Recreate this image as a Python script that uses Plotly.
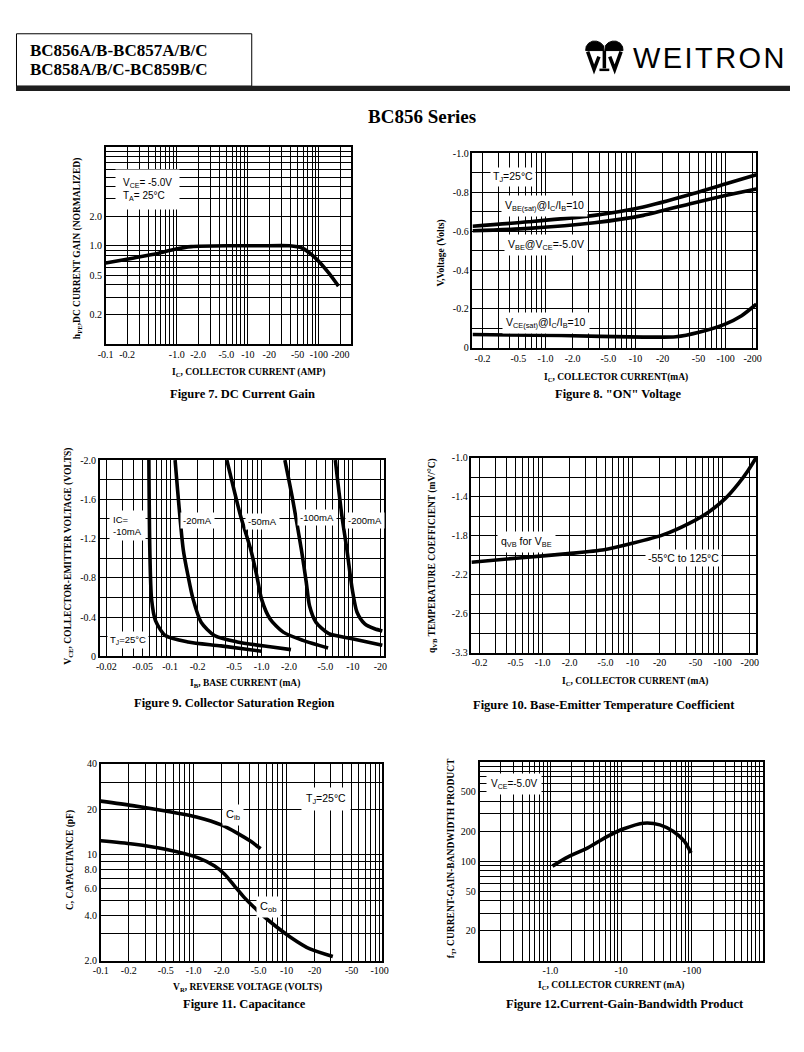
import numpy as np
import plotly.graph_objects as go

# page is 804x1052; the html body keeps an 8px margin, so the figure fills the inside
PAGE_W, PAGE_H = 804, 1052
OFF = 8
W, H = PAGE_W - 2 * OFF, PAGE_H - 2 * OFF

# ---------------- DATA (current / voltage magnitudes on log axes; axes are labelled negative) -------------
# Figure 7: DC current gain
f7_ic = [0.1, 0.239, 0.556, 0.944, 1.6, 5.7, 15, 38.4, 58.6, 89.5, 137, 188]
f7_hfe = [0.667, 0.748, 0.841, 0.923, 0.98, 1.0, 1.0, 1.0, 0.944, 0.748, 0.53, 0.389]
f7_xtick_vals = [0.1, 0.2, 1, 2, 5, 10, 20, 50, 100, 200]
f7_xtick_text = ["-0.1", "-0.2", "-1.0", "-2.0", "-5.0", "-10", "-20", "-50", "-100", "-200"]
f7_ytick_vals = [0.2, 0.5, 1, 2]
f7_ytick_text = ["0.2", "0.5", "1.0", "2.0"]

# Figure 8: "ON" voltage
f8_ic = [0.155, 0.652, 3.48, 12.2, 42.9, 98.9, 219]
f8_vbe_sat = [-0.625, -0.648, -0.681, -0.724, -0.792, -0.842, -0.890]
f8_vbe_on = [-0.602, -0.614, -0.643, -0.681, -0.744, -0.783, -0.817]
f8_ic_vce = [0.155, 1.5, 12.2, 28.2, 50.6, 98.9, 150.6, 219]
f8_vce_sat = [-0.068, -0.063, -0.055, -0.057, -0.080, -0.122, -0.165, -0.224]
f8_xtick_vals = [0.2, 0.5, 1, 2, 5, 10, 20, 50, 100, 200]
f8_xtick_text = ["-0.2", "-0.5", "-1.0", "-2.0", "-5.0", "-10", "-20", "-50", "-100", "-200"]
f8_ytick_vals = [0, -0.2, -0.4, -0.6, -0.8, -1.0]
f8_ytick_text = ["0", "-0.2", "-0.4", "-0.6", "-0.8", "-1.0"]

# Figure 9: collector saturation region
f9_ib_10 = [0.0584, 0.0598, 0.0625, 0.069, 0.0883, 0.157, 0.359, 1.0]
f9_vce_10 = [-2.0, -1.09, -0.584, -0.365, -0.214, -0.148, -0.108, -0.053]
f9_ib_20 = [0.1131, 0.139, 0.157, 0.178, 0.218, 0.305, 0.541, 1.24, 2.1]
f9_vce_20 = [-2.0, -1.087, -0.818, -0.584, -0.349, -0.214, -0.148, -0.098, -0.070]
f9_ib_50 = [0.417, 0.593, 0.762, 0.889, 1.0, 1.24, 1.727, 2.83, 5.35]
f9_vce_50 = [-2.0, -1.422, -1.087, -0.818, -0.584, -0.382, -0.248, -0.164, -0.087]
f9_ib_100 = [1.80, 2.2, 2.73, 3.09, 3.35, 3.94, 5.45, 9.84, 21.0]
f9_vce_100 = [-2.0, -1.59, -1.087, -0.752, -0.516, -0.349, -0.232, -0.181, -0.115]
f9_ib_200 = [6.42, 7.6, 8.6, 9.84, 11.1, 13.5, 17.3, 21.0]
f9_vce_200 = [-2.0, -1.422, -1.087, -0.684, -0.45, -0.332, -0.282, -0.26]
f9_xtick_vals = [0.02, 0.05, 0.1, 0.2, 0.5, 1, 2, 5, 10, 20]
f9_xtick_text = ["-0.02", "-0.05", "-0.1", "-0.2", "-0.5", "-1.0", "-2.0", "-5.0", "-10", "-20"]
f9_ytick_vals = [0, -0.4, -0.8, -1.2, -1.6, -2.0]
f9_ytick_text = ["0", "-0.4", "-0.8", "-1.2", "-1.6", "-2.0"]

# Figure 10: base-emitter temperature coefficient
f10_ic = [0.162, 0.546, 1.92, 4.82, 10.2, 21.7, 42.5, 70.2, 106.7, 149, 191, 236]
f10_tc = [-2.074, -2.03, -1.986, -1.946, -1.878, -1.794, -1.675, -1.558, -1.422, -1.27, -1.135, -1.0]
f10_xtick_vals = [0.2, 0.5, 1, 2, 5, 10, 20, 50, 100, 200]
f10_xtick_text = ["-0.2", "-0.5", "-1.0", "-2.0", "-5.0", "-10", "-20", "-50", "-100", "-200"]
f10_ytick_vals = [-1.0, -1.4, -1.8, -2.2, -2.6, -3.0]
f10_ytick_text = ["-1.0", "-1.4", "-1.8", "-2.2", "-2.6", "-3.3"]

# Figure 11: capacitance
f11_vr_cib = [0.1, 0.22, 0.497, 1.12, 1.98, 2.97, 4.11, 5.25]
f11_cib = [22.7, 21.2, 19.5, 17.7, 15.8, 13.9, 12.3, 11.0]
f11_vr_cob = [0.1, 0.22, 0.497, 1.12, 1.68, 2.15, 2.74, 3.49, 4.83, 6.7, 10.9, 17.8, 31.4]
f11_cob = [12.4, 11.8, 10.9, 9.57, 8.45, 7.46, 6.25, 5.24, 4.30, 3.6, 2.87, 2.39, 2.13]
f11_xtick_vals = [0.1, 0.2, 0.5, 1, 2, 5, 10, 20, 50, 100]
f11_xtick_text = ["-0.1", "-0.2", "-0.5", "-1.0", "-2.0", "-5.0", "-10", "-20", "-50", "-100"]
f11_ytick_vals = [2, 4, 6, 8, 10, 20, 40]
f11_ytick_text = ["2.0", "4.0", "6.0", "8.0", "10", "20", "40"]

# Figure 12: current-gain-bandwidth product
f12_ic = [1.07, 1.78, 3.37, 6.4, 10.9, 20.6, 35.2, 54, 78.2, 96.9]
f12_ft = [89, 110, 136, 177, 211, 240, 231, 199, 158, 121]
f12_xtick_vals = [1, 10, 100]
f12_xtick_text = ["-1.0", "-10", "-100"]
f12_ytick_vals = [20, 50, 100, 200, 500]
f12_ytick_text = ["20", "50", "100", "200", "500"]


# ---------------- helpers ----------------
def px(x):
    return (x - OFF) / W


def py(y):
    return 1 - (y - OFF) / H


def log_grid(lo, hi):
    out = []
    for e in range(-3, 4):
        for m in range(1, 10):
            v = round(m * 10 ** e, 6)
            if lo * 0.999 <= v <= hi * 1.001:
                out.append(v)
    return out


def lin_grid(a, b, step):
    n = int(round(abs(b - a) / step))
    return [round(a + np.sign(b - a) * i * step, 4) for i in range(n + 1)]


SERIF = "Liberation Serif"
SANS = "Liberation Sans"


def axis(dom_px, anchor, typ, rng, grid, vals, texts, vertical=False):
    if vertical:
        dom = [py(dom_px[1]), py(dom_px[0])]
    else:
        dom = [px(dom_px[0]), px(dom_px[1])]
    return dict(domain=dom, anchor=anchor, type=typ, range=rng,
                tickmode="array", tickvals=vals, ticktext=texts,
                showgrid=True, gridcolor="black", gridwidth=1,
                minor=dict(tickmode="array", tickvals=grid, showgrid=True,
                           gridcolor="black", gridwidth=1, ticks=""),
                showline=True, linecolor="black", linewidth=1.5, mirror=True,
                ticks="", zeroline=False, fixedrange=True,
                tickfont=dict(family=SERIF, size=10, color="black"))


fig = go.Figure()
LINE = dict(color="black", width=3.6, shape="spline", smoothing=0.7)


def add(x, y, ax):
    fig.add_trace(go.Scatter(x=x, y=y, mode="lines", line=LINE, xaxis="x" + ax, yaxis="y" + ax,
                             hoverinfo="skip", showlegend=False))


add(f7_ic, f7_hfe, "")
add(f8_ic, f8_vbe_sat, "2")
add(f8_ic, f8_vbe_on, "2")
add(f8_ic_vce, f8_vce_sat, "2")
add(f9_ib_10, f9_vce_10, "3")
add(f9_ib_20, f9_vce_20, "3")
add(f9_ib_50, f9_vce_50, "3")
add(f9_ib_100, f9_vce_100, "3")
add(f9_ib_200, f9_vce_200, "3")
add(f10_ic, f10_tc, "4")
add(f11_vr_cib, f11_cib, "5")
add(f11_vr_cob, f11_cob, "5")
add(f12_ic, f12_ft, "6")

layout = dict(width=W, height=H, margin=dict(l=0, r=0, t=0, b=0),
              paper_bgcolor="white", plot_bgcolor="white", showlegend=False)

# Fig 7
layout["xaxis"] = axis((99.3, 349), "y", "log", [-1, 2.45], log_grid(0.1, 282), f7_xtick_vals, f7_xtick_text)
layout["yaxis"] = axis((143, 342), "x", "log", [-1, 1], log_grid(0.1, 10), f7_ytick_vals, f7_ytick_text, True)
# Fig 8
layout["xaxis2"] = axis((472.7, 761.7), "y2", "log", [-0.811, 2.341], log_grid(0.155, 219), f8_xtick_vals, f8_xtick_text)
layout["yaxis2"] = axis((149, 345.7), "x2", "linear", [0, -1.0], lin_grid(0, -1.0, 0.1), f8_ytick_vals, f8_ytick_text, True)
# Fig 9
layout["xaxis3"] = axis((93.3, 382.7), "y3", "log", [-1.771, 1.341], log_grid(0.017, 21.9), f9_xtick_vals, f9_xtick_text)
layout["yaxis3"] = axis((459.3, 658), "x3", "linear", [0, -2.0], lin_grid(0, -2.0, 0.2), f9_ytick_vals, f9_ytick_text, True)
# Fig 10
layout["xaxis4"] = axis((471.7, 761.7), "y4", "log", [-0.79, 2.374], log_grid(0.162, 236), f10_xtick_vals, f10_xtick_text)
layout["yaxis4"] = axis((456.7, 654), "x4", "linear", [-3.0, -1.0], lin_grid(-1.0, -3.0, 0.2), f10_ytick_vals, f10_ytick_text, True)
# Fig 11
layout["xaxis5"] = axis((94.3, 381), "y5", "log", [-1, 2.03], log_grid(0.1, 107), f11_xtick_vals, f11_xtick_text)
layout["yaxis5"] = axis((766.7, 965.7), "x5", "log", [np.log10(2), np.log10(40)], log_grid(2, 40), f11_ytick_vals, f11_ytick_text, True)
# Fig 12
layout["xaxis6"] = axis((480, 768.3), "y6", "log", [-1, 3], log_grid(0.1, 1000), f12_xtick_vals, f12_xtick_text)
layout["yaxis6"] = axis((764.3, 965.7), "x6", "log", [1, 3], log_grid(10, 1000), f12_ytick_vals, f12_ytick_text, True)

fig.update_layout(**layout)

# ---------------- text ----------------
anns = []


def ann(text, x, y, size=10, family=SERIF, xanchor="center", angle=0, bg=None, pad=1,
        bold=False, align="center"):
    d = dict(text=text, x=px(x), y=py(y), xref="paper", yref="paper", showarrow=False,
             xanchor=xanchor, yanchor="middle", textangle=angle, align=align,
             font=dict(family=family, size=size, color="black", weight="bold" if bold else "normal"),
             borderpad=pad)
    if bg:
        d["bgcolor"] = bg
    anns.append(d)


# header
ann("BC856A/B-BC857A/B/C", 20, 45, size=17, xanchor="left", bold=True)
ann("BC858A/B/C-BC859B/C", 20, 64, size=17, xanchor="left", bold=True)
ann("W\u200aE\u200aI\u200aT\u200aR\u200aO\u200aN", 713, 53, size=29, family=SANS)
ann("BC856 Series", 421, 112, size=19, bold=True)

# fig 7
ann("I<sub>C</sub>, COLLECTOR CURRENT (AMP)", 245, 371, size=9.5, bold=True)
ann("Figure 7. DC Current Gain", 239, 392, size=12.5, bold=True)
ann("h<sub>FE</sub>,DC CURRENT GAIN (NORMALIZED)", 70, 245, size=9.5, angle=-90, bold=True)
ann("V<sub>CE</sub>= -5.0V<br>T<sub>A</sub>= 25\u00b0C", 142, 186, size=10, family=SANS, bg="white",
    pad=7, align="left")

# fig 8
ann("I<sub>C</sub>, COLLECTOR CURRENT(mA)", 619, 376, size=9.5, bold=True)
ann("Figure 8. \"ON\" Voltage", 621, 392, size=12.5, bold=True)
ann("V,Voltage (Volts)", 441, 250, size=9.5, angle=-90, bold=True)
ann("T<sub>J</sub>=25\u00b0C", 514, 173, size=10.5, family=SANS, bg="white", pad=2)
ann("V<sub>BE(sat)</sub>@I<sub>C</sub>/I<sub>B</sub>=10", 546, 202, size=10.5, family=SANS, bg="white", pad=3)
ann("V<sub>BE</sub>@V<sub>CE</sub>=-5.0V", 548, 242, size=10.5, family=SANS, bg="white", pad=3)
ann("V<sub>CE(sat)</sub>@I<sub>C</sub>/I<sub>B</sub>=10", 548, 321, size=10.5, family=SANS, bg="white", pad=3)

# fig 9
ann("I<sub>B</sub>, BASE CURRENT (mA)", 241, 685, size=9.5, bold=True)
ann("Figure 9. Collector Saturation Region", 230, 705, size=12.5, bold=True)
ann("V<sub>CE</sub>, COLLECTOR-EMITTER VOLTAGE (VOLTS)", 62, 557, size=9.5, angle=-90, bold=True)
ann("IC=<br>-10mA", 122, 525, size=9.5, family=SANS, bg="white", pad=3, align="left")
ann("-20mA", 193, 520, size=9.5, family=SANS, bg="white", pad=2)
ann("-50mA", 259, 521, size=9.5, family=SANS, bg="white", pad=2)
ann("-100mA", 314, 517, size=9.5, family=SANS, bg="white", pad=2)
ann("-200mA", 363, 520, size=9.5, family=SANS, bg="white", pad=2)
ann("T<sub>J</sub>=25\u00b0C", 122, 641, size=9.5, family=SANS, bg="white", pad=2)

# fig 10
ann("I<sub>C</sub>, COLLECTOR CURRENT (mA)", 638, 683, size=9.5, bold=True)
ann("Figure 10. Base-Emitter Temperature Coefficient", 607, 707, size=12.5, bold=True)
ann("q<sub>VB</sub> TEMPERATURE COEFFICIENT (mV/\u00b0C)", 432, 556, size=9.5, angle=-90, bold=True)
ann("q<sub>VB</sub> for V<sub>BE</sub>", 528, 542, size=10.5, family=SANS, bg="white", pad=3)
ann("-55\u00b0C to 125\u00b0C", 688, 558, size=10.5, family=SANS, bg="white", pad=2)

# fig 11
ann("V<sub>R</sub>, REVERSE VOLTAGE (VOLTS)", 244, 993, size=9.5, bold=True)
ann("Figure 11. Capacitance", 241, 1010, size=12.5, bold=True)
ann("C, CAPACITANCE (pF)", 63, 864, size=9.5, angle=-90, bold=True)
ann("C<sub>ib</sub>", 229, 818, size=11, family=SANS, bg="white", pad=3)
ann("C<sub>ob</sub>", 265, 911, size=11, family=SANS, bg="white", pad=3)
ann("T<sub>J</sub>=25\u00b0C", 324, 802, size=10.5, family=SANS, bg="white", pad=4)

# fig 12
ann("I<sub>C</sub>, COLLECTOR CURRENT (mA)", 614, 991, size=9.5, bold=True)
ann("Figure 12.Current-Gain-Bandwidth Product", 628, 1010, size=12.5, bold=True)
ann("f<sub>T</sub>, CURRENT-GAIN-BANDWIDTH PRODUCT", 451, 862, size=9.5, angle=-90, bold=True)
ann("V<sub>CE</sub>=-5.0V", 515, 787, size=10, family=SANS, bg="white", pad=4)

fig.update_layout(annotations=anns)

# ---------------- header shapes ----------------
shapes = []


def rect(x0, y0, x1, y1, line_w=1, fill=None):
    s = dict(type="rect", xref="paper", yref="paper", x0=px(x0), x1=px(x1), y0=py(y1), y1=py(y0),
             line=dict(color="black", width=line_w), layer="above")
    if fill:
        s["fillcolor"] = fill
        s["line"] = dict(width=0)
    shapes.append(s)


def path(points, closed=False, fill=None, width=3):
    d = "M " + " L ".join(f"{px(x):.5f},{py(y):.5f}" for x, y in points)
    if closed:
        d += " Z"
    s = dict(type="path", xref="paper", yref="paper", path=d, layer="above",
             line=dict(color="black", width=width))
    if fill:
        s["fillcolor"] = fill
    shapes.append(s)


rect(8.5, 28, 248, 81, line_w=1)
rect(8, 80.5, 796, 86, fill="#1e1e1e")

# logo symbol (two domes over a W with a T stem)
dome_l = [(588, 45), (588.5, 41), (591, 37.5), (595, 35.5), (599, 35.5), (603, 37), (606, 40), (606.5, 45)]
dome_r = [(607.5, 45), (608, 40), (611, 37), (615, 35.5), (619, 35.5), (623, 37.5), (625.5, 41), (626, 45)]
path(dome_l, closed=True, fill="black", width=1)
path(dome_r, closed=True, fill="black", width=1)
path([(590, 46), (596.5, 64), (601.5, 51)], width=3.5)
path([(624, 46), (617.5, 64), (612.5, 51)], width=3.5)
path([(607, 45), (607, 63)], width=3.5)
path([(602, 64.5), (612, 64.5)], width=2.5)

fig.update_layout(shapes=shapes)

fig.write_html("out.html", config={"displayModeBar": False})
